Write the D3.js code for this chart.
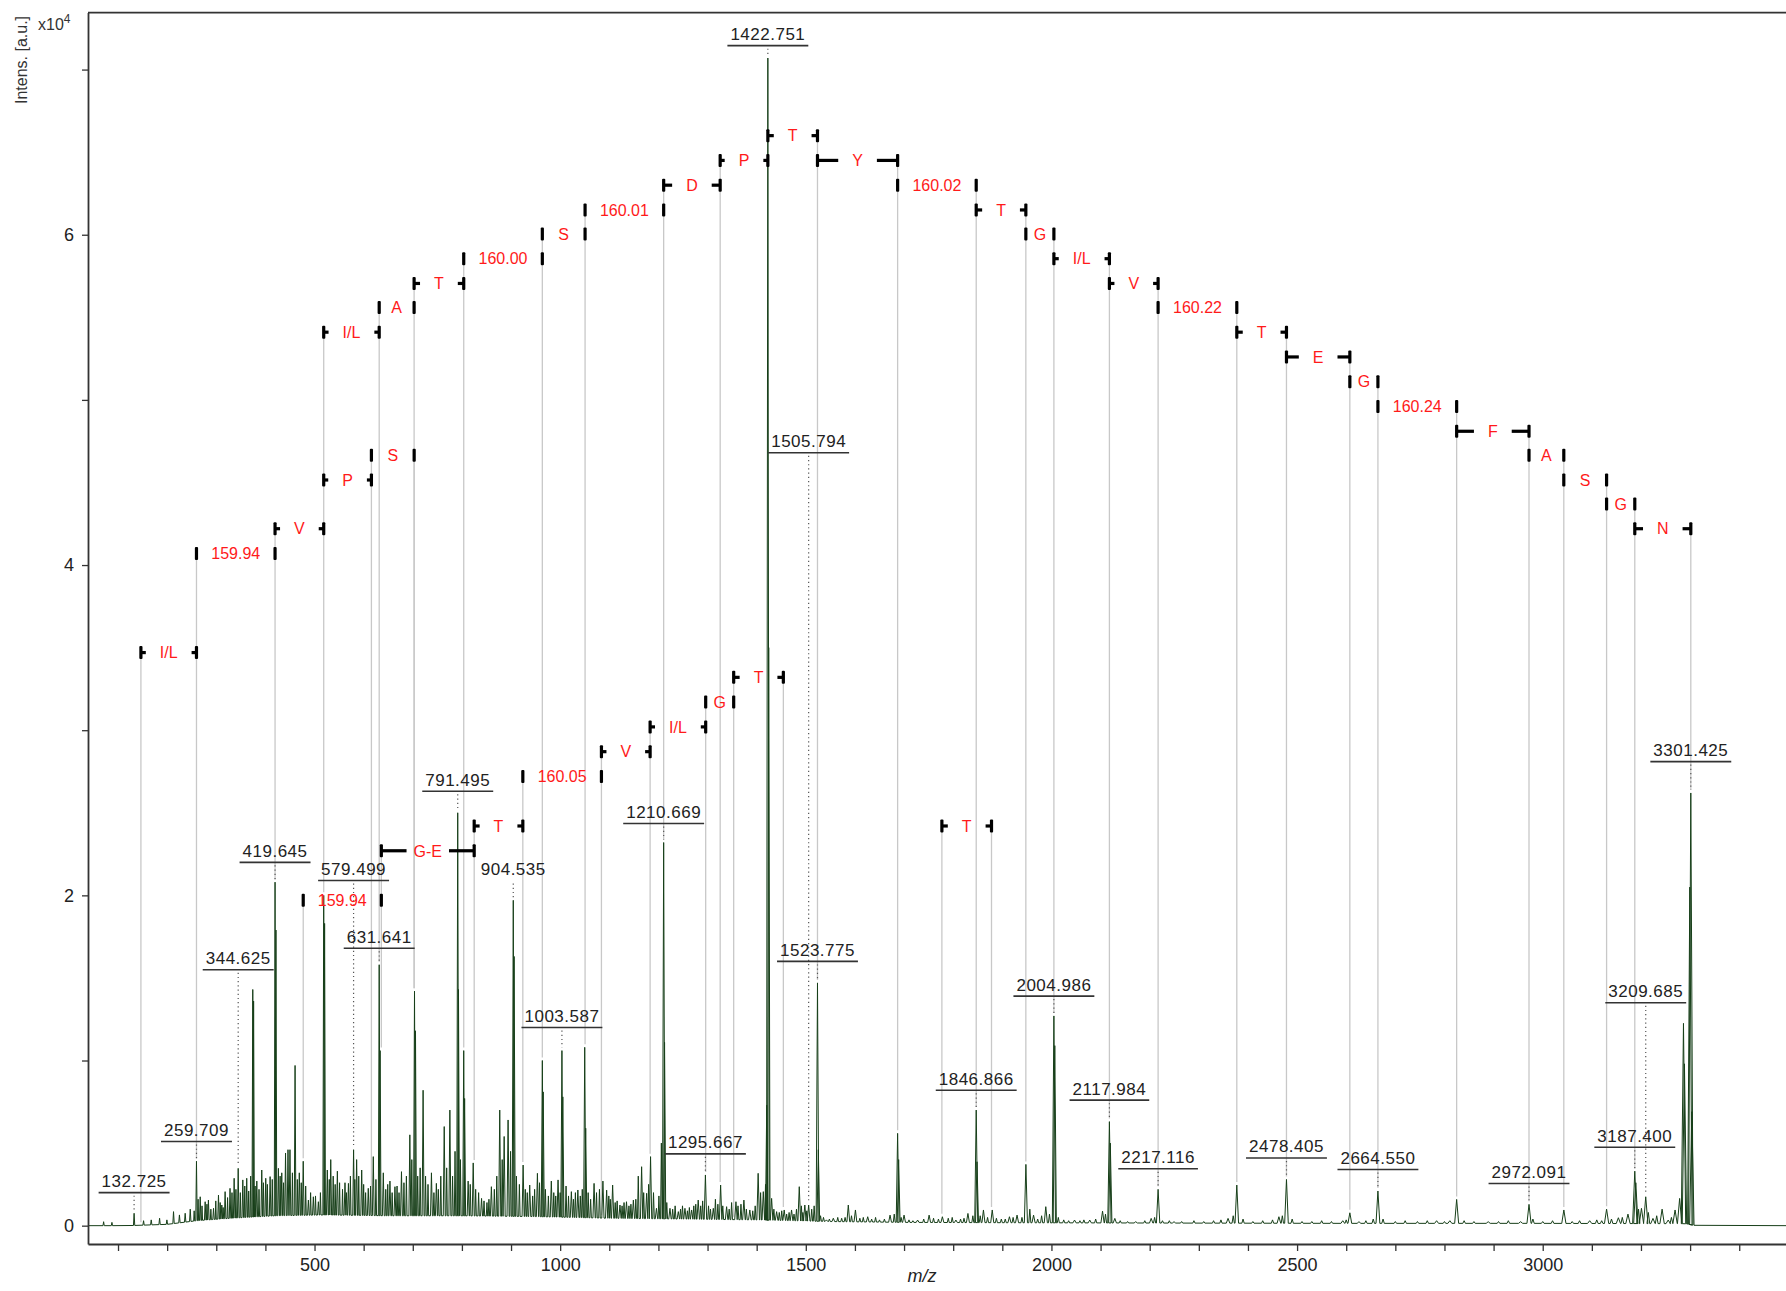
<!DOCTYPE html>
<html>
<head>
<meta charset="utf-8">
<script src="https://d3js.org/d3.v7.min.js"></script>
<style>
  body { margin: 0; background: #fff; }
  svg text { font-family: "Liberation Sans", Arial, sans-serif; }
</style>
</head>
<body>
<div id="chart"></div>
<script>

// spectrum peaks: m/z and intensity (x10^4)
var peakMz = [70.7, 87.6, 132.725, 152, 167.6, 184.6, 199.5, 213, 225, 236.7, 247, 259.709, 267.3, 277.4, 284, 294.4,
  304.5, 311.3, 318, 328, 336.4, 344.625, 354, 362, 374.3, 376, 382.5, 392.6, 400.7, 409.6, 419.645, 421.5, 426.5,
  433.3, 441, 446, 450, 460.4, 469, 477, 487.5, 497.6, 507.8, 518.7, 520.5, 526, 533, 546.5, 562, 569, 579.499, 585.7,
  596, 609.4, 619.6, 631.641, 633.5, 640, 653.5, 663.7, 677, 694, 703.5, 705.5, 721, 738, 748, 764, 775.5, 791.495,
  793, 803.7, 805.5, 812.7, 823, 840, 860, 877, 886, 894, 904.535, 906.3, 924.6, 938, 953.7, 963.7, 965.5, 982, 995.7,
  1003.587, 1005.4, 1022.8, 1036, 1050, 1052, 1069, 1087, 1094.6, 1106.8, 1121.7, 1135, 1149, 1165.8, 1176, 1184,
  1196, 1210.669, 1212.5, 1223.5, 1240.5, 1254, 1267.6, 1281, 1295.667, 1311.7, 1326.6, 1338.8, 1357.8, 1374, 1386,
  1403, 1413.5, 1420.5, 1422.751, 1424.5, 1430.4, 1440.6, 1456, 1471, 1486.7, 1498, 1505.794, 1523.775, 1525.5, 1542,
  1556, 1586.5, 1601, 1626, 1671.5, 1686.9, 1689, 1700, 1727.6, 1751, 1778, 1805.5, 1830, 1846.866, 1848.5, 1861.6,
  1879.5, 1914.5, 1930, 1948, 1963.6, 1988.5, 2004.986, 2006.8, 2047, 2078, 2104, 2117.984, 2119.8, 2129, 2171.6,
  2203, 2217.116, 2249.5, 2359.5, 2377.3, 2463, 2478.405, 2593, 2607.4, 2626, 2664.55, 2784, 2811, 2824.8, 2889, 2955,
  2972.091, 3043, 3095.6, 3130, 3154, 3173.5, 3187.4, 3189.5, 3201, 3209.685, 3224.4, 3243, 3255.4, 3269.4, 3278.7,
  3286.5, 3288.5, 3299.4, 3301.425, 3303.5];
var peakInt = [0.024, 0.02, 0.075, 0.03, 0.035, 0.045, 0.035, 0.085, 0.065, 0.075, 0.10, 0.39, 0.175, 0.145, 0.155, 0.105,
  0.185, 0.125, 0.206, 0.226, 0.287, 0.347, 0.277, 0.287, 1.43, 1.36, 0.27, 0.337, 0.287, 0.297, 2.08, 1.79, 0.347,
  0.32, 0.44, 0.46, 0.46, 0.97, 0.32, 0.39, 0.155, 0.175, 0.145, 2.0, 1.83, 0.337, 0.40, 0.33, 0.26, 0.256, 0.46, 0.40,
  0.337, 0.226, 0.418, 1.58, 1.06, 0.32, 0.27, 0.236, 0.327, 0.55, 1.42, 1.18, 0.82, 0.32, 0.256, 0.60, 0.70, 2.50,
  1.43, 1.06, 0.77, 0.27, 0.38, 0.165, 0.236, 0.70, 0.54, 0.64, 1.97, 1.63, 0.367, 0.246, 0.317, 1.00, 0.81, 0.27, 0.277,
  1.06, 0.78, 0.206, 0.216, 1.08, 0.59, 0.256, 0.27, 0.215, 0.246, 0.125, 0.145, 0.155, 0.357, 0.196, 0.418,
  0.105, 2.32, 1.11, 0.105, 0.085, 0.105, 0.095, 0.155, 0.307, 0.105, 0.246, 0.115, 0.145, 0.155, 0.095,
  0.317, 0.206, 0.73, 7.07, 3.5, 0.165, 0.085, 0.095, 0.095, 0.236, 0.125, 0.125, 1.47, 0.46, 0.035,
  0.045, 0.125, 0.095, 0.054, 0.064, 0.559, 0.40, 0.064, 0.034, 0.064, 0.054, 0.034, 0.074, 0.70, 0.387, 0.095,
  0.095, 0.054, 0.064, 0.371, 0.064, 0.115, 1.27, 1.09, 0.034, 0.034, 0.088, 0.63, 0.50, 0.044, 0.024,
  0.044, 0.22, 0.024, 0.044, 0.246, 0.054, 0.28, 0.03, 0.078, 0.024, 0.21, 0.03, 0.03, 0.159, 0.024, 0.024,
  0.129, 0.095, 0.03, 0.10, 0.048, 0.07, 0.33, 0.26, 0.105, 0.175, 0.044, 0.10, 0.034, 0.095, 0.165,
  1.225, 0.98, 2.05, 2.62, 0.69];

// small noise spikes between the main peaks
var noiseMz = [255, 263, 271, 281, 289, 299, 308, 314, 323, 332, 340, 349, 358, 366, 370, 379, 387, 396, 404, 414,
  430, 437, 455, 465, 473, 482, 492, 502, 512, 530, 538, 542, 551, 557, 565, 573,
  582, 590, 600, 604, 614, 625, 645, 649, 658, 668, 672, 682, 687, 698, 710, 715, 726, 731, 743, 752, 757, 769,
  781, 786, 797, 817, 828, 834, 845, 851, 855, 866, 871, 882, 899, 911, 917, 929, 933, 944, 948, 958, 970, 976,
  987, 991, 1000, 1012, 1017, 1027, 1031, 1041, 1045, 1057, 1062, 1074, 1080,
  1099, 1102, 1112, 1116, 1126, 1130, 1140, 1144, 1154, 1159, 1170, 1180, 1190, 1201, 1206, 1217, 1229, 1234,
  1245, 1249, 1259, 1263, 1272, 1276, 1286, 1290, 1302, 1306, 1316, 1321, 1331, 1344, 1349, 1362, 1368, 1379,
  1392, 1397, 1408, 1418, 1435, 1446, 1451, 1461, 1466, 1476, 1481, 1491, 1494, 1502, 1512, 1517, 1530, 1536,
  1548, 1565, 1573, 1580, 1593, 1610, 1617, 1634, 1642, 1650, 1660, 1680, 1694, 1710, 1718, 1740, 1760, 1770,
  1790, 1798, 1815, 1822, 1840, 1855, 1870, 1888, 1898, 1906, 1922, 1940, 1956, 1972, 1980, 1996, 2014, 2025,
  2035, 2058, 2066, 2090, 2110, 2140, 2155, 2190, 2210, 2226, 2240, 2265, 2290, 2310, 2330, 2345, 2370, 2390,
  2410, 2430, 2450, 2470, 2490, 2510, 2530, 2550, 2570, 2600, 2640, 2655, 2675, 2700, 2720, 2745, 2765, 2800,
  2840, 2860, 2910, 2930, 2980, 3000, 3020, 3060, 3075, 3110, 3120, 3140, 3162, 3195, 3215, 3232, 3262];
var noiseInt = [0.09, 0.16, 0.12, 0.13, 0.10, 0.15, 0.14, 0.11, 0.17, 0.20, 0.22, 0.20, 0.24, 0.21, 0.30, 0.24,
  0.22, 0.26, 0.25, 0.28, 0.30, 0.26, 0.32, 0.28, 0.26, 0.24, 0.20, 0.18, 0.20, 0.28, 0.30, 0.25, 0.26, 0.22, 0.20, 0.30,
  0.28, 0.30, 0.25, 0.20, 0.24, 0.28, 0.22, 0.25, 0.20, 0.24, 0.20, 0.26, 0.30, 0.40, 0.30, 0.35, 0.30, 0.25, 0.20,
  0.22, 0.30, 0.35, 0.30, 0.45, 0.40, 0.25, 0.22, 0.20, 0.15, 0.14, 0.16, 0.22, 0.30, 0.40, 0.45, 0.30, 0.25, 0.22,
  0.20, 0.18, 0.22, 0.26, 0.22, 0.18, 0.20, 0.18, 0.20, 0.24, 0.18, 0.16, 0.20, 0.18, 0.22, 0.20, 0.16, 0.20, 0.22,
  0.18, 0.16, 0.14, 0.15, 0.12, 0.14, 0.12, 0.13, 0.16, 0.30, 0.20, 0.25, 0.20, 0.18, 0.50, 0.14, 0.10, 0.12,
  0.10, 0.12, 0.09, 0.11, 0.12, 0.13, 0.12, 0.15, 0.12, 0.10, 0.16, 0.13, 0.12, 0.10, 0.14, 0.12, 0.13, 0.10,
  0.09, 0.12, 0.20, 0.25, 0.10, 0.08, 0.09, 0.07, 0.08, 0.07, 0.10, 0.12, 0.08, 0.09, 0.10, 0.12, 0.06, 0.05,
  0.04, 0.05, 0.045, 0.05, 0.06, 0.045, 0.05, 0.04, 0.05, 0.035, 0.04, 0.07, 0.05, 0.035, 0.03, 0.04, 0.045, 0.04,
  0.045, 0.05, 0.04, 0.045, 0.06, 0.06, 0.05, 0.045, 0.04, 0.04, 0.05, 0.05, 0.10, 0.04, 0.06, 0.07, 0.05, 0.035,
  0.03, 0.03, 0.035, 0.04, 0.07, 0.03, 0.025, 0.03, 0.05, 0.03, 0.03, 0.025, 0.03, 0.025, 0.03, 0.035, 0.06, 0.04,
  0.025, 0.03, 0.035, 0.06, 0.04, 0.025, 0.025, 0.03, 0.025, 0.035, 0.03, 0.04, 0.04, 0.025, 0.03, 0.025, 0.03, 0.025,
  0.03, 0.025, 0.025, 0.03, 0.04, 0.025, 0.03, 0.025, 0.03, 0.035, 0.03, 0.04, 0.05, 0.10, 0.08, 0.06, 0.05];

// baseline level under the peaks
var baseMz = [38, 120, 200, 260, 330, 420, 520, 650, 800, 950, 1100, 1250, 1400, 1550, 1700, 1900, 2200, 2600, 3000, 3290, 3312, 3500];
var baseInt = [0, 0, 0.008, 0.03, 0.045, 0.06, 0.065, 0.06, 0.06, 0.055, 0.045, 0.04, 0.035, 0.025, 0.02, 0.018, 0.016, 0.014, 0.014, 0.012, 0, 0];

// peak labels
var labelText = ["132.725", "259.709", "344.625", "419.645", "579.499", "631.641", "791.495", "904.535", "1003.587",
  "1210.669", "1295.667", "1422.751", "1505.794", "1523.775", "1846.866", "2004.986", "2117.984", "2217.116",
  "2478.405", "2664.550", "2972.091", "3187.400", "3209.685", "3301.425"];
var labelMz = [132.725, 259.709, 344.625, 419.645, 579.499, 631.641, 791.495, 904.535, 1003.587, 1210.669, 1295.667,
  1422.751, 1505.794, 1523.775, 1846.866, 2004.986, 2117.984, 2217.116, 2478.405, 2664.55, 2972.091, 3187.4,
  3209.685, 3301.425];
var labelLevel = [0.20, 0.51, 1.55, 2.20, 2.09, 1.68, 2.63, 2.09, 1.20, 2.435, 0.435, 7.145, 4.68, 1.60, 0.82, 1.39,
  0.76, 0.345, 0.41, 0.34, 0.255, 0.475, 1.35, 2.81];
var labelUnderline = [1, 1, 1, 1, 1, 1, 1, 0, 1, 1, 1, 1, 1, 1, 1, 1, 1, 1, 1, 1, 1, 1, 1, 1];

// sequence ladder annotations
var ladLabel = ["I/L", "159.94", "V", "P", "S", "I/L", "A", "T", "160.00", "S", "160.01", "D", "P", "T", "Y", "160.02",
  "T", "G", "I/L", "V", "160.22", "T", "E", "G", "160.24", "F", "A", "S", "G", "N",
  "159.94", "G-E", "T", "160.05", "V", "I/L", "G", "T", "T"];
var ladFrom = [146.6, 259.709, 419.645, 518.7, 615.8, 518.7, 631.641, 702.7, 803.7, 963.7, 1050.7, 1210.669, 1325.7,
  1422.751, 1523.775, 1686.9, 1846.866, 1947.9, 2004.986, 2117.984, 2217.116, 2377.3, 2478.405, 2607.4, 2664.55,
  2824.8, 2972.091, 3042.9, 3130.0, 3187.4,
  477, 636, 825, 924, 1084, 1183.1, 1296.2, 1353.2, 1777];
var ladTo = [259.709, 419.645, 518.7, 615.8, 702.8, 631.641, 702.7, 803.7, 963.7, 1050.7, 1210.669, 1325.7, 1422.751,
  1523.775, 1686.9, 1846.866, 1947.9, 2004.986, 2117.984, 2217.116, 2377.3, 2478.405, 2607.4, 2664.55, 2824.8,
  2972.091, 3042.9, 3130.0, 3187.4, 3301.425,
  636, 825, 924, 1084, 1183.1, 1296.2, 1353.2, 1454.3, 1878];
var ladRow = [3.47, 4.07, 4.22, 4.515, 4.665, 5.41, 5.56, 5.705, 5.855, 6.005, 6.15, 6.30, 6.45, 6.60, 6.45, 6.30,
  6.15, 6.005, 5.855, 5.705, 5.56, 5.41, 5.26, 5.11, 4.96, 4.81, 4.665, 4.515, 4.37, 4.22,
  1.97, 2.27, 2.42, 2.72, 2.87, 3.02, 3.17, 3.32, 2.42];

var xTicks = d3.range(100, 3500, 100);
var yTicks = [0, 1, 2, 3, 4, 5, 6, 7];

var W = 1786, H = 1291;
var plotLeft = 88, plotRight = 1786, plotTop = 12.6, plotBottom = 1244;

var svg = d3.select("#chart").append("svg")
  .attr("width", W)
  .attr("height", H);

var x = d3.scaleLinear().domain([38.9, 3495.2]).range([plotLeft, plotRight]);
var y = d3.scaleLinear().domain([-0.111, 7.345]).range([plotBottom, plotTop]);
var base = d3.scaleLinear().domain(baseMz).range(baseInt).clamp(true);

svg.append("clipPath").attr("id", "plotclip")
  .append("rect")
  .attr("x", plotLeft).attr("y", plotTop)
  .attr("width", plotRight - plotLeft).attr("height", plotBottom - plotTop);

var peaks = peakMz.map(function (m, i) { return { mz: m, inten: peakInt[i], main: true }; })
  .concat(noiseMz.map(function (m, i) { return { mz: m, inten: noiseInt[i], main: false }; }));
peaks.sort(function (a, b) { return a.mz - b.mz; });

function apexAt(m) {
  var best = null;
  peaks.forEach(function (p) {
    if (p.main && Math.abs(p.mz - m) <= 2.6 && (best === null || p.inten > best)) best = p.inten;
  });
  return best === null ? base(m) : best;
}

// grey ladder lines
var ladderPos = {};
ladFrom.forEach(function (m, i) {
  [m, ladTo[i]].forEach(function (v) {
    var k = v.toFixed(1);
    if (!(k in ladderPos) || ladderPos[k].top < ladRow[i]) ladderPos[k] = { mz: v, top: ladRow[i] };
  });
});
var gLines = svg.append("g").attr("clip-path", "url(#plotclip)");
Object.keys(ladderPos).forEach(function (k) {
  var d = ladderPos[k];
  var y1 = y(d.top), y2 = y(apexAt(d.mz)) - 3;
  if (y2 > y1) {
    gLines.append("line")
      .attr("x1", x(d.mz)).attr("x2", x(d.mz))
      .attr("y1", y1).attr("y2", y2)
      .attr("stroke", "#c8c8c8")
      .attr("stroke-width", 1.3);
  }
});

// dotted leaders from labels to peaks
labelMz.forEach(function (m, i) {
  var ya = y(apexAt(m));
  var yl = y(labelLevel[i]) + 3;
  if (ya - yl > 6) {
    gLines.append("line")
      .attr("x1", x(m)).attr("x2", x(m))
      .attr("y1", yl).attr("y2", ya - 3)
      .attr("stroke", "#555")
      .attr("stroke-width", 1.2)
      .attr("stroke-dasharray", "1.2,3");
  }
});

// spectrum trace
var pts = [[38.9, 0]];
peaks.forEach(function (p) {
  var hw = p.main ? 1.2 + p.mz * 0.001 : 0.9 + p.mz * 0.0006;
  pts.push([p.mz - hw, base(p.mz - hw)]);
  pts.push([p.mz, p.inten]);
  pts.push([p.mz + hw, base(p.mz + hw)]);
});
pts.push([3495.2, 0]);

svg.append("path")
  .datum(pts)
  .attr("clip-path", "url(#plotclip)")
  .attr("fill", "none")
  .attr("stroke", "#173f19")
  .attr("stroke-width", 1.0)
  .attr("stroke-linejoin", "round")
  .attr("d", d3.line()
    .x(function (d) { return x(d[0]); })
    .y(function (d) { return y(d[1]); }));

// ladder brackets and residue labels
var gLad = svg.append("g");
ladLabel.forEach(function (lab, i) {
  var x1 = x(ladFrom[i]), x2 = x(ladTo[i]), yr = y(ladRow[i]);
  var t = gLad.append("text")
    .attr("x", (x1 + x2) / 2)
    .attr("y", yr)
    .attr("dy", "0.36em")
    .attr("text-anchor", "middle")
    .attr("fill", "#ff1a1a")
    .style("font-size", "16px")
    .text(lab);
  var tw = t.node().getComputedTextLength();
  var stub = ((x2 - x1) - tw) / 2 - (lab.indexOf("-") > 0 ? 7 : 14);
  [x1, x2].forEach(function (xx, j) {
    gLad.append("rect")
      .attr("x", xx - 1.6).attr("y", yr - 6.5)
      .attr("width", 3.2).attr("height", 13)
      .attr("rx", 1)
      .attr("fill", "#000");
    if (stub > 3) {
      gLad.append("rect")
        .attr("x", j === 0 ? xx : xx - stub)
        .attr("y", yr - 1.6)
        .attr("width", stub).attr("height", 3.2)
        .attr("fill", "#000");
    }
  });
});

// peak labels
var gLab = svg.append("g");
labelText.forEach(function (txt, i) {
  var xc = x(labelMz[i]), yl = y(labelLevel[i]);
  var t = gLab.append("text")
    .attr("x", xc)
    .attr("y", yl - 5.6)
    .attr("text-anchor", "middle")
    .attr("fill", "#222")
    .style("font-size", "17px")
    .style("letter-spacing", "0.5px")
    .text(txt);
  var tw = t.node().getComputedTextLength();
  if (labelUnderline[i]) {
    gLab.append("line")
      .attr("x1", xc - tw / 2 - 3).attr("x2", xc + tw / 2 + 3)
      .attr("y1", yl).attr("y2", yl)
      .attr("stroke", "#333")
      .attr("stroke-width", 1.6);
  }
});

// axes
var xAxis = svg.append("g")
  .attr("transform", "translate(0," + plotBottom + ")")
  .call(d3.axisBottom(x).tickValues(xTicks)
    .tickFormat(function (d) { return d % 500 === 0 ? d : ""; })
    .tickSize(7).tickSizeOuter(0).tickPadding(7));
xAxis.select(".domain").attr("stroke", "#333").attr("stroke-width", 1.8);
xAxis.selectAll(".tick line").attr("stroke", "#333").attr("stroke-width", 1.3);
xAxis.selectAll("text").style("font-size", "18px").attr("fill", "#222")
  .style("font-family", "'Liberation Sans', Arial, sans-serif");

var yAxis = svg.append("g")
  .attr("transform", "translate(" + plotLeft + ",0)")
  .call(d3.axisLeft(y).tickValues(yTicks)
    .tickFormat(function (d) { return d % 2 === 0 ? d : ""; })
    .tickSize(6).tickSizeOuter(0).tickPadding(8));
yAxis.select(".domain").attr("stroke", "#333").attr("stroke-width", 1.8);
yAxis.selectAll(".tick line").attr("stroke", "#333").attr("stroke-width", 1.3);
yAxis.selectAll("text").style("font-size", "18px").attr("fill", "#222")
  .style("font-family", "'Liberation Sans', Arial, sans-serif");

// top border
svg.append("line")
  .attr("x1", plotLeft).attr("x2", plotRight)
  .attr("y1", plotTop).attr("y2", plotTop)
  .attr("stroke", "#333").attr("stroke-width", 1.8);

// axis titles
svg.append("text")
  .attr("transform", "translate(27,60) rotate(-90)")
  .attr("text-anchor", "middle")
  .attr("fill", "#333")
  .style("font-size", "16px")
  .text("Intens. [a.u.]");

var unit = svg.append("text")
  .attr("x", 38).attr("y", 30)
  .attr("fill", "#333")
  .style("font-size", "16px")
  .text("x10");
unit.append("tspan")
  .attr("dy", "-7")
  .style("font-size", "12px")
  .text("4");

svg.append("text")
  .attr("x", 922).attr("y", 1282)
  .attr("text-anchor", "middle")
  .attr("fill", "#222")
  .style("font-size", "18px")
  .style("font-style", "italic")
  .text("m/z");

</script>
</body>
</html>
